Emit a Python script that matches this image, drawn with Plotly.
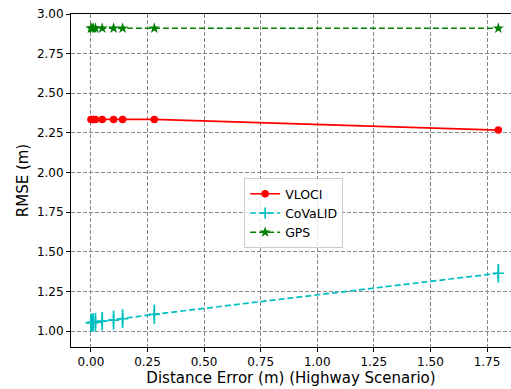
import plotly.graph_objects as go

x_err = [0, 0.005, 0.01, 0.02, 0.05, 0.1, 0.14, 0.28, 1.8]
vloci = [2.335, 2.335, 2.335, 2.335, 2.335, 2.335, 2.335, 2.335, 2.268]
vloci_err = [0.005] * 9
covalid = [1.053, 1.054, 1.055, 1.057, 1.063, 1.070, 1.078, 1.106, 1.365]
covalid_err = [0.057, 0.057, 0.057, 0.058, 0.058, 0.060, 0.060, 0.061, 0.059]
gps = [2.91] * 9
gps_err = [0.005] * 9

x_ticks = [0.0, 0.25, 0.5, 0.75, 1.0, 1.25, 1.5, 1.75]
y_ticks = [1.0, 1.25, 1.5, 1.75, 2.0, 2.25, 2.5, 2.75, 3.0]

fig = go.Figure()
fig.add_trace(go.Scatter(
    x=x_err, y=vloci, name="VLOCI", mode="lines+markers",
    line=dict(color="#ff0000", width=1.7),
    marker=dict(symbol="circle", size=7.5, color="#ff0000"),
    error_y=dict(type="data", array=vloci_err, color="#ff0000", width=0, thickness=1.7),
))
fig.add_trace(go.Scatter(
    x=x_err, y=covalid, name="CoVaLID", mode="lines+markers",
    line=dict(color="#00bfbf", width=1.7, dash="6px,3px"),
    marker=dict(symbol="cross-thin", size=8, color="#00bfbf", line=dict(color="#00bfbf", width=1.7)),
    error_y=dict(type="data", array=covalid_err, color="#00bfbf", width=0, thickness=1.7),
))
fig.add_trace(go.Scatter(
    x=x_err, y=gps, name="GPS", mode="lines+markers",
    line=dict(color="#008000", width=1.7, dash="6px,3px"),
    marker=dict(symbol="star", size=8.5, color="#008000"),
    error_y=dict(type="data", array=gps_err, color="#008000", width=0, thickness=1.7),
))

fig.update_layout(
    width=511, height=389,
    margin=dict(l=71, r=0, t=14, b=42),
    plot_bgcolor="white", paper_bgcolor="white",
    font=dict(family="DejaVu Sans", size=12, color="black"),
    legend=dict(x=0.506, y=0.402, xanchor="center", yanchor="middle",
                bgcolor="rgba(255,255,255,0.8)", bordercolor="#cccccc", borderwidth=1,
                font=dict(size=12.5), tracegroupgap=0, itemwidth=30),
    showlegend=True,
)
fig.update_xaxes(
    range=[-0.088, 1.856], tickvals=x_ticks, ticktext=[f"{v:.2f}" for v in x_ticks],
    showline=True, linecolor="black", linewidth=1, mirror=True,
    ticks="outside", ticklen=4, tickcolor="black", tickfont=dict(size=12),
    showgrid=True, gridcolor="#888888", griddash="4px,2px", gridwidth=1,
    zeroline=False,
    title=dict(text="Distance Error (m) (Highway Scenario)", font=dict(size=15), standoff=2),
)
fig.update_yaxes(
    range=[0.9, 3.0], tickvals=y_ticks, ticktext=[f"{v:.2f}" for v in y_ticks],
    showline=True, linecolor="black", linewidth=1, mirror=False,
    ticks="outside", ticklen=4, tickcolor="black", tickfont=dict(size=12),
    showgrid=True, gridcolor="#888888", griddash="4px,2px", gridwidth=1,
    zeroline=False,
    title=dict(text="RMSE (m)", font=dict(size=15), standoff=4),
)

fig.write_html("out.html")
